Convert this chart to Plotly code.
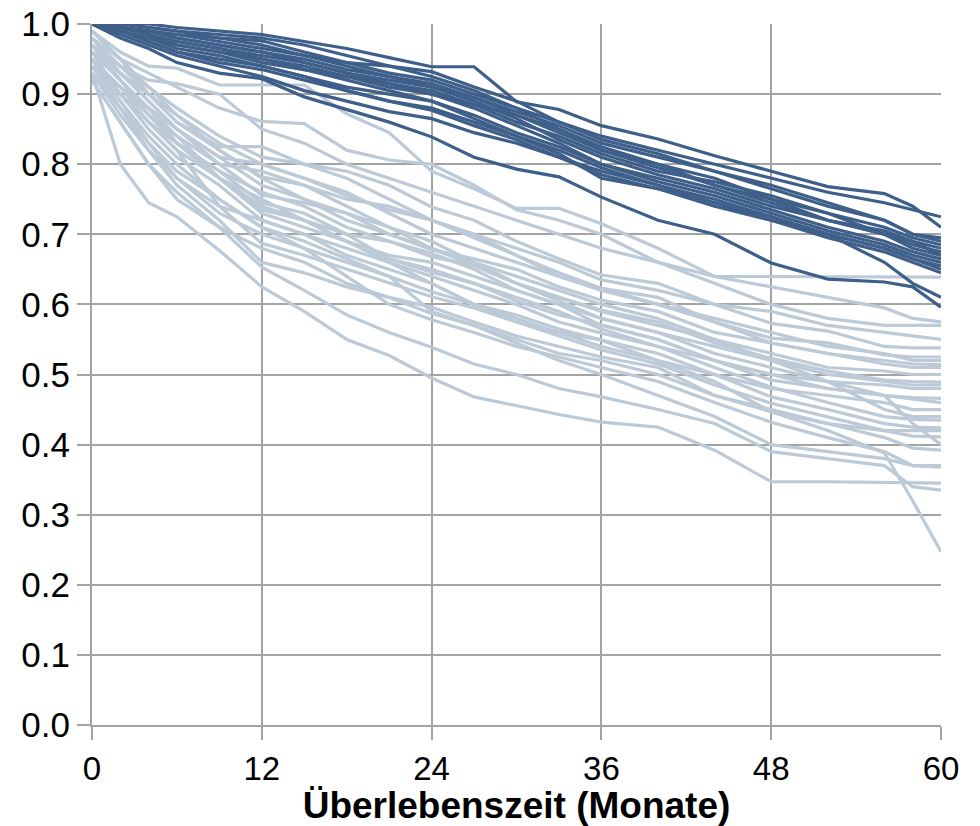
import plotly.graph_objects as go

months = [0, 2, 4, 6, 9, 12, 15, 18, 21, 24, 27, 30, 33, 36, 40, 44, 48, 52, 56, 58, 60]

# light (grey-blue) survival curves
light_curves = [
    [0.99, 0.96, 0.94, 0.937, 0.913, 0.913, 0.913, 0.872, 0.845, 0.79, 0.765, 0.737, 0.737, 0.715, 0.68, 0.64, 0.64, 0.64, 0.64, 0.64, 0.639],
    [0.98, 0.95, 0.93, 0.91, 0.88, 0.861, 0.858, 0.82, 0.806, 0.80, 0.77, 0.735, 0.72, 0.70, 0.66, 0.64, 0.625, 0.61, 0.595, 0.58, 0.575],
    [0.97, 0.94, 0.91, 0.88, 0.84, 0.81, 0.80, 0.79, 0.77, 0.739, 0.72, 0.69, 0.665, 0.642, 0.63, 0.60, 0.573, 0.562, 0.54, 0.538, 0.538],
    [0.99, 0.95, 0.90, 0.86, 0.82, 0.782, 0.77, 0.75, 0.74, 0.72, 0.70, 0.67, 0.64, 0.623, 0.61, 0.575, 0.552, 0.545, 0.528, 0.525, 0.525],
    [0.96, 0.93, 0.89, 0.85, 0.80, 0.756, 0.745, 0.73, 0.70, 0.678, 0.665, 0.65, 0.625, 0.606, 0.59, 0.56, 0.545, 0.53, 0.52, 0.515, 0.514],
    [0.97, 0.92, 0.87, 0.83, 0.79, 0.745, 0.73, 0.70, 0.69, 0.668, 0.655, 0.63, 0.61, 0.592, 0.575, 0.545, 0.523, 0.505, 0.492, 0.49, 0.489],
    [0.95, 0.91, 0.87, 0.84, 0.78, 0.735, 0.72, 0.70, 0.665, 0.646, 0.63, 0.605, 0.585, 0.571, 0.55, 0.52, 0.492, 0.48, 0.47, 0.467, 0.466],
    [0.96, 0.90, 0.85, 0.81, 0.77, 0.72, 0.70, 0.68, 0.66, 0.639, 0.62, 0.60, 0.575, 0.559, 0.54, 0.51, 0.482, 0.46, 0.44, 0.436, 0.435],
    [0.94, 0.89, 0.84, 0.80, 0.75, 0.71, 0.69, 0.665, 0.64, 0.618, 0.60, 0.585, 0.565, 0.549, 0.53, 0.50, 0.468, 0.45, 0.43, 0.425, 0.424],
    [0.95, 0.90, 0.86, 0.82, 0.74, 0.687, 0.67, 0.65, 0.63, 0.611, 0.595, 0.575, 0.555, 0.535, 0.515, 0.485, 0.459, 0.44, 0.42, 0.412, 0.411],
    [0.93, 0.88, 0.82, 0.77, 0.72, 0.66, 0.645, 0.625, 0.61, 0.596, 0.575, 0.555, 0.54, 0.525, 0.51, 0.47, 0.447, 0.43, 0.41, 0.395, 0.392],
    [0.95, 0.89, 0.83, 0.78, 0.73, 0.70, 0.68, 0.64, 0.60, 0.578, 0.56, 0.54, 0.525, 0.511, 0.49, 0.46, 0.432, 0.41, 0.39, 0.37, 0.368],
    [0.93, 0.80, 0.745, 0.725, 0.677, 0.625, 0.59, 0.55, 0.527, 0.495, 0.468, 0.455, 0.443, 0.432, 0.425, 0.392, 0.347, 0.347, 0.346, 0.345, 0.345],
    [0.92, 0.86, 0.80, 0.76, 0.71, 0.653, 0.62, 0.585, 0.56, 0.539, 0.515, 0.50, 0.48, 0.468, 0.45, 0.43, 0.39, 0.38, 0.37, 0.34, 0.335],
    [0.97, 0.92, 0.88, 0.83, 0.78, 0.74, 0.72, 0.69, 0.66, 0.63, 0.60, 0.58, 0.56, 0.549, 0.52, 0.49, 0.447, 0.42, 0.388, 0.32, 0.247],
    [0.98, 0.94, 0.90, 0.87, 0.83, 0.80, 0.78, 0.76, 0.73, 0.70, 0.68, 0.66, 0.64, 0.62, 0.60, 0.58, 0.56, 0.54, 0.53, 0.52, 0.52],
    [0.96, 0.92, 0.88, 0.85, 0.81, 0.77, 0.75, 0.73, 0.71, 0.69, 0.66, 0.63, 0.61, 0.59, 0.57, 0.55, 0.53, 0.51, 0.505, 0.50, 0.50],
    [0.95, 0.90, 0.86, 0.83, 0.79, 0.76, 0.74, 0.71, 0.69, 0.673, 0.65, 0.62, 0.60, 0.57, 0.55, 0.52, 0.50, 0.48, 0.47, 0.465, 0.46],
    [0.94, 0.91, 0.88, 0.84, 0.80, 0.79, 0.77, 0.74, 0.71, 0.68, 0.655, 0.63, 0.605, 0.58, 0.56, 0.54, 0.52, 0.49, 0.45, 0.44, 0.44],
    [0.97, 0.93, 0.90, 0.86, 0.825, 0.825, 0.80, 0.78, 0.75, 0.72, 0.70, 0.68, 0.66, 0.635, 0.62, 0.60, 0.59, 0.57, 0.56, 0.555, 0.55],
    [0.93, 0.87, 0.82, 0.78, 0.74, 0.72, 0.70, 0.67, 0.65, 0.63, 0.60, 0.575, 0.56, 0.54, 0.52, 0.50, 0.48, 0.47, 0.46, 0.45, 0.45],
    [0.96, 0.92, 0.87, 0.83, 0.78, 0.75, 0.72, 0.69, 0.665, 0.65, 0.63, 0.61, 0.59, 0.565, 0.54, 0.52, 0.50, 0.49, 0.485, 0.48, 0.48],
    [0.99, 0.95, 0.91, 0.87, 0.82, 0.78, 0.75, 0.72, 0.70, 0.68, 0.66, 0.64, 0.62, 0.60, 0.58, 0.55, 0.52, 0.50, 0.49, 0.485, 0.485],
    [0.94, 0.88, 0.83, 0.79, 0.75, 0.71, 0.68, 0.66, 0.64, 0.59, 0.57, 0.55, 0.53, 0.52, 0.50, 0.47, 0.45, 0.43, 0.42, 0.42, 0.42],
    [0.98, 0.93, 0.89, 0.85, 0.81, 0.80, 0.78, 0.755, 0.735, 0.72, 0.695, 0.67, 0.645, 0.623, 0.60, 0.575, 0.545, 0.53, 0.515, 0.51, 0.51],
    [0.95, 0.91, 0.86, 0.82, 0.78, 0.73, 0.71, 0.69, 0.67, 0.66, 0.64, 0.62, 0.60, 0.58, 0.56, 0.53, 0.51, 0.49, 0.47, 0.43, 0.40],
    [0.97, 0.94, 0.92, 0.915, 0.90, 0.85, 0.83, 0.80, 0.78, 0.76, 0.74, 0.72, 0.70, 0.68, 0.66, 0.63, 0.60, 0.58, 0.57, 0.57, 0.57],
    [0.92, 0.86, 0.80, 0.75, 0.71, 0.68, 0.66, 0.63, 0.61, 0.587, 0.57, 0.545, 0.52, 0.50, 0.47, 0.44, 0.40, 0.39, 0.38, 0.37, 0.37],
]

# dark blue survival curves
dark_curves = [
    [1.0, 1.0, 1.0, 0.995, 0.99, 0.985, 0.975, 0.965, 0.952, 0.939, 0.939, 0.889, 0.878, 0.855, 0.836, 0.812, 0.79, 0.768, 0.758, 0.74, 0.71],
    [1.0, 0.995, 0.99, 0.985, 0.975, 0.965, 0.955, 0.945, 0.94, 0.932, 0.91, 0.89, 0.86, 0.84, 0.82, 0.80, 0.78, 0.76, 0.745, 0.735, 0.725],
    [1.0, 0.995, 0.985, 0.975, 0.965, 0.955, 0.945, 0.93, 0.92, 0.91, 0.895, 0.875, 0.855, 0.83, 0.81, 0.79, 0.765, 0.74, 0.72, 0.70, 0.69],
    [1.0, 0.99, 0.98, 0.97, 0.96, 0.95, 0.935, 0.925, 0.915, 0.90, 0.885, 0.87, 0.85, 0.825, 0.80, 0.78, 0.75, 0.73, 0.70, 0.69, 0.68],
    [1.0, 0.995, 0.99, 0.985, 0.98, 0.976, 0.96, 0.945, 0.93, 0.92, 0.90, 0.88, 0.85, 0.82, 0.795, 0.77, 0.75, 0.72, 0.70, 0.68, 0.67],
    [1.0, 0.99, 0.975, 0.96, 0.95, 0.94, 0.925, 0.91, 0.90, 0.89, 0.87, 0.845, 0.825, 0.80, 0.78, 0.76, 0.735, 0.71, 0.69, 0.675, 0.665],
    [1.0, 0.985, 0.97, 0.955, 0.94, 0.925, 0.905, 0.89, 0.875, 0.865, 0.845, 0.83, 0.81, 0.79, 0.77, 0.745, 0.72, 0.70, 0.68, 0.665, 0.655],
    [1.0, 0.98, 0.965, 0.945, 0.93, 0.922, 0.896, 0.878, 0.86, 0.839, 0.81, 0.793, 0.782, 0.753, 0.72, 0.70, 0.659, 0.636, 0.632, 0.625, 0.596],
    [1.0, 0.995, 0.985, 0.97, 0.96, 0.945, 0.935, 0.92, 0.905, 0.89, 0.865, 0.84, 0.815, 0.78, 0.765, 0.745, 0.725, 0.70, 0.68, 0.665, 0.65],
    [1.0, 0.995, 0.99, 0.98, 0.97, 0.96, 0.95, 0.935, 0.925, 0.91, 0.89, 0.865, 0.835, 0.81, 0.785, 0.765, 0.74, 0.72, 0.70, 0.685, 0.675],
    [1.0, 1.0, 0.995, 0.99, 0.98, 0.97, 0.955, 0.94, 0.925, 0.915, 0.895, 0.87, 0.845, 0.82, 0.80, 0.77, 0.745, 0.72, 0.705, 0.69, 0.67],
    [1.0, 0.99, 0.98, 0.965, 0.955, 0.94, 0.925, 0.905, 0.89, 0.877, 0.855, 0.835, 0.81, 0.785, 0.765, 0.74, 0.72, 0.695, 0.675, 0.66, 0.645],
    [1.0, 0.995, 0.985, 0.975, 0.965, 0.95, 0.94, 0.925, 0.91, 0.90, 0.88, 0.855, 0.83, 0.80, 0.775, 0.755, 0.73, 0.705, 0.685, 0.67, 0.66],
    [1.0, 1.0, 0.995, 0.99, 0.985, 0.98, 0.97, 0.955, 0.94, 0.925, 0.905, 0.88, 0.86, 0.835, 0.815, 0.79, 0.77, 0.745, 0.72, 0.70, 0.695],
    [1.0, 0.99, 0.975, 0.96, 0.945, 0.935, 0.92, 0.905, 0.89, 0.88, 0.86, 0.84, 0.82, 0.795, 0.77, 0.75, 0.725, 0.70, 0.66, 0.63, 0.61],
    [1.0, 0.995, 0.99, 0.98, 0.97, 0.96, 0.945, 0.93, 0.915, 0.905, 0.885, 0.86, 0.84, 0.815, 0.79, 0.775, 0.755, 0.73, 0.71, 0.695, 0.685],
]

x_ticks = [0, 12, 24, 36, 48, 60]
y_ticks = [0.0, 0.1, 0.2, 0.3, 0.4, 0.5, 0.6, 0.7, 0.8, 0.9, 1.0]
x_title = "Überlebenszeit (Monate)"

LIGHT = "#bccad7"
DARK = "#3e5f8a"
GRID = "#a3a3a3"

fig = go.Figure()
for ys in light_curves:
    fig.add_trace(go.Scatter(x=months, y=ys, mode="lines",
                             line=dict(color=LIGHT, width=3.2), hoverinfo="skip"))
for ys in dark_curves:
    fig.add_trace(go.Scatter(x=months, y=ys, mode="lines",
                             line=dict(color=DARK, width=3.2), hoverinfo="skip"))

font_family = "Liberation Sans, Arial, sans-serif"
fig.update_layout(
    width=980, height=826,
    margin=dict(l=92, r=39, t=24, b=101),
    paper_bgcolor="white", plot_bgcolor="white",
    showlegend=False,
    font=dict(family=font_family, color="black"),
)
fig.update_xaxes(
    range=[0, 60], tickvals=x_ticks, ticktext=[str(v) for v in x_ticks],
    automargin=False,
    showgrid=True, gridcolor=GRID, gridwidth=2,
    showline=True, linecolor=GRID, linewidth=2,
    ticks="outside", ticklen=13, tickwidth=2, tickcolor=GRID,
    tickfont=dict(size=33, family=font_family, color="black"),
    zeroline=False,
    title=dict(text="<b>" + x_title + "</b>",
               font=dict(size=37, family=font_family, color="black"),
               standoff=0),
)
fig.update_yaxes(
    range=[0, 1], tickvals=y_ticks, tickformat=".1f",
    automargin=False,
    showgrid=True, gridcolor=GRID, gridwidth=2,
    showline=True, linecolor=GRID, linewidth=2,
    ticks="outside", ticklen=13, tickwidth=2, tickcolor=GRID,
    tickfont=dict(size=35, family=font_family, color="black"),
    zeroline=False,
)

fig.write_html("out.html")
